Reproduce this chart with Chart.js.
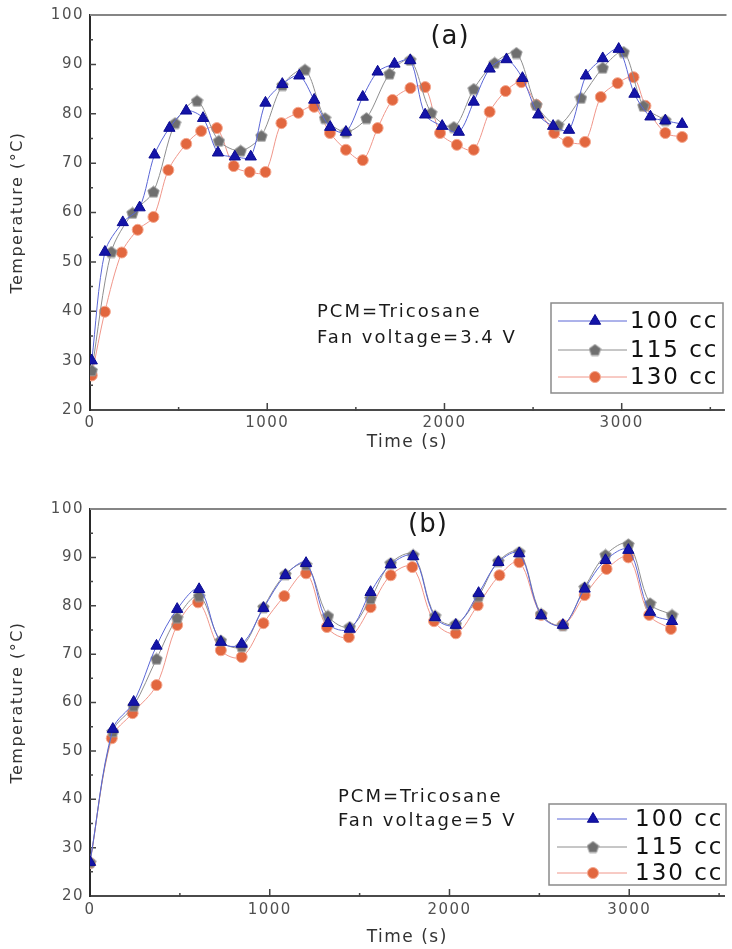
<!DOCTYPE html>
<html>
<head>
<meta charset="utf-8">
<script src="https://cdn.jsdelivr.net/npm/chart.js@4.4.0/dist/chart.umd.min.js"></script>
<style>
body { margin: 0; background: #fff; width: 732px; height: 949px; overflow: hidden; }
.box { position: absolute; left: 0; width: 732px; }
</style>
</head>
<body>
<div class="box" style="top:0;height:470px"><canvas id="ChartA"></canvas></div>
<div class="box" style="top:470px;height:479px"><canvas id="ChartB"></canvas></div>
<script>
// (a) fan voltage 3.4 V
var timeA100 = [10, 84, 185, 280, 364, 448, 543, 638, 722, 817, 907, 990, 1085, 1181, 1265, 1355, 1444, 1539, 1623, 1718, 1807, 1891, 1987, 2081, 2165, 2255, 2350, 2440, 2529, 2613, 2703, 2798, 2893, 2983, 3072, 3162, 3246, 3341];
var tempA100 = [30, 52, 58, 61, 71.7, 77.1, 80.6, 79.1, 72.1, 71.3, 71.3, 82.2, 86, 87.7, 82.8, 77.3, 76.3, 83.4, 88.5, 90.1, 90.8, 79.8, 77.5, 76.3, 82.4, 89.1, 91.0, 87.2, 79.8, 77.5, 76.7, 87.7, 91.2, 93.1, 84.0, 79.4, 78.6, 77.9];
var timeA115 = [10, 120, 240, 358, 480, 604, 727, 850, 967, 1086, 1213, 1326, 1444, 1560, 1690, 1807, 1925, 2053, 2165, 2283, 2406, 2518, 2641, 2770, 2893, 3011, 3122, 3246];
var tempA115 = [28, 52, 59.9, 64.2, 78.1, 82.6, 74.5, 72.5, 75.5, 85.8, 88.9, 79.1, 76.3, 79.1, 88.1, 90.9, 80.2, 77.3, 85.0, 90.3, 92.3, 81.8, 77.7, 83.2, 89.3, 92.5, 81.6, 78.7];
var timeA130 = [10, 84, 179, 269, 358, 442, 543, 627, 716, 811, 901, 990, 1080, 1175, 1265, 1354, 1444, 1539, 1623, 1707, 1808, 1891, 1975, 2070, 2165, 2255, 2345, 2434, 2518, 2619, 2697, 2793, 2882, 2977, 3067, 3134, 3246, 3341];
var tempA130 = [27, 39.9, 51.9, 56.5, 59.1, 68.6, 73.9, 76.5, 77.1, 69.4, 68.2, 68.2, 78.1, 80.2, 81.4, 76.1, 72.7, 70.6, 77.1, 82.8, 85.2, 85.4, 76.1, 73.7, 72.7, 80.4, 84.6, 86.4, 81.8, 76.1, 74.3, 74.3, 83.4, 86.2, 87.4, 81.6, 76.1, 75.3];

// (b) fan voltage 5 V
var timeB100 = [0, 127, 243, 370, 485, 607, 728, 844, 965, 1087, 1202, 1324, 1445, 1561, 1673, 1798, 1920, 2035, 2162, 2272, 2388, 2510, 2631, 2752, 2868, 2995, 3116, 3238];
var tempB100 = [27, 54.5, 60.1, 71.7, 79.3, 83.4, 72.5, 72.1, 79.5, 86.3, 88.8, 76.4, 75.2, 82.8, 88.5, 90.2, 77.6, 76.0, 82.6, 89.0, 90.8, 78.0, 76.0, 83.5, 89.4, 91.5, 78.7, 76.8];
var timeB115 = [0, 127, 243, 370, 485, 607, 728, 844, 965, 1087, 1202, 1324, 1445, 1561, 1673, 1798, 1920, 2035, 2162, 2272, 2388, 2510, 2631, 2752, 2868, 2995, 3116, 3238];
var tempB115 = [27, 54.0, 59.3, 69, 77.5, 82, 72.8, 71.6, 79.7, 86.5, 88.5, 77.9, 75.6, 81.5, 88.8, 90.5, 77.9, 76.2, 82, 89.2, 91.1, 78.3, 76.0, 83.8, 90.5, 92.7, 80.5, 78.1];
var timeB130 = [0, 121, 237, 370, 485, 601, 728, 844, 965, 1081, 1202, 1318, 1440, 1561, 1673, 1793, 1914, 2035, 2157, 2278, 2388, 2510, 2631, 2752, 2874, 2995, 3111, 3232];
var tempB130 = [26.8, 52.6, 57.8, 63.6, 76.0, 80.7, 70.8, 69.4, 76.4, 82.0, 86.7, 75.6, 73.5, 79.7, 86.3, 88.0, 76.8, 74.3, 80.1, 86.3, 89.0, 78.1, 76.0, 82.2, 87.6, 90.0, 78.1, 75.2];

var seriesLabels = ['100 cc', '115 cc', '130 cc'];
var xTickLabels = [0, 1000, 2000, 3000];
var yTickLabels = [20, 30, 40, 50, 60, 70, 80, 90, 100];

var FONT = "'DejaVu Sans', sans-serif";

function pts(t, v) {
    return t.map(function (x, i) { return {x: x, y: v[i]}; });
}

// grey pentagon marker
function pentagon() {
    var c = document.createElement('canvas');
    c.width = 13; c.height = 13;
    var g = c.getContext('2d');
    g.beginPath();
    for (var i = 0; i < 5; i++) {
        var a = -Math.PI / 2 + i * 2 * Math.PI / 5;
        var px = 6.5 + 6 * Math.cos(a), py = 7 + 6 * Math.sin(a);
        if (i) g.lineTo(px, py); else g.moveTo(px, py);
    }
    g.closePath();
    g.fillStyle = '#6f6f6f';
    g.fill();
    g.strokeStyle = '#9a9a9a';
    g.stroke();
    return c;
}
var greyMark = pentagon();

function makeData(t1, v1, t2, v2, t3, v3, tension) {
    return {
        datasets: [
            {
                label: seriesLabels[0],
                data: pts(t1, v1),
                borderColor: '#5a66d6', borderWidth: 1, tension: tension,
                pointStyle: 'triangle', pointRadius: 6.5,
                pointBackgroundColor: '#1414a8', pointBorderColor: '#0a0a90', pointBorderWidth: 1
            },
            {
                label: seriesLabels[1],
                data: pts(t2, v2),
                borderColor: '#8e8e8e', borderWidth: 1, tension: tension,
                pointStyle: greyMark, pointRadius: 6,
                pointBackgroundColor: '#6f6f6f', pointBorderColor: '#9a9a9a', pointBorderWidth: 1
            },
            {
                label: seriesLabels[2],
                data: pts(t3, v3),
                borderColor: '#f0968a', borderWidth: 1, tension: tension,
                pointStyle: 'circle', pointRadius: 5.5,
                pointBackgroundColor: '#e2673f', pointBorderColor: '#f4a890', pointBorderWidth: 1
            }
        ]
    };
}

// wider glyph spacing for the axis texts
var spacing = {
    id: 'spacing',
    beforeDraw: function (chart) { chart.ctx.letterSpacing = '1.5px'; },
    afterDraw: function (chart) { chart.ctx.letterSpacing = '0px'; }
};

// top frame line + inward ticks
var frame = {
    id: 'frame',
    beforeDatasetsDraw: function (chart) {
        var ctx = chart.ctx, a = chart.chartArea, x = chart.scales.x, y = chart.scales.y;
        ctx.save();
        ctx.strokeStyle = '#858585';
        ctx.lineWidth = 2;
        ctx.beginPath();
        ctx.moveTo(a.left, a.top);
        ctx.lineTo(a.right + 2, a.top);
        ctx.stroke();
        ctx.strokeStyle = '#444';
        ctx.lineWidth = 1.5;
        ctx.beginPath();
        for (var v = 25; v < 100; v += 5) {
            var py = y.getPixelForValue(v);
            ctx.moveTo(a.left, py);
            ctx.lineTo(a.left + (v % 10 === 0 ? 6 : 3), py);
        }
        for (var t = 500; t <= 3500; t += 500) {
            var px = x.getPixelForValue(t);
            ctx.moveTo(px, a.bottom + 1);
            ctx.lineTo(px, a.bottom - (t % 1000 === 0 ? 7 : 3));
        }
        ctx.stroke();
        ctx.restore();
    }
};

// panel label, notes and boxed legend
var notes = {
    id: 'notes',
    afterDatasetsDraw: function (chart, args, o) {
        var ctx = chart.ctx;
        ctx.save();
        ctx.fillStyle = '#1a1a1a';
        ctx.textBaseline = 'middle';
        ctx.font = '26px ' + FONT;
        ctx.letterSpacing = '1px';
        ctx.textAlign = 'center';
        ctx.fillText(o.title, o.titleX, o.titleY);
        ctx.textAlign = 'left';
        ctx.font = '18px ' + FONT;
        ctx.letterSpacing = '2px';
        o.lines.forEach(function (s, i) {
            ctx.fillText(s, o.textX, o.textY[i]);
        });
        var b = o.box;
        ctx.fillStyle = '#fff';
        ctx.fillRect(b[0], b[1], b[2] - b[0], b[3] - b[1]);
        ctx.strokeStyle = '#8a8a8a';
        ctx.lineWidth = 1.5;
        ctx.strokeRect(b[0], b[1], b[2] - b[0], b[3] - b[1]);
        ctx.font = '23px ' + FONT;
        chart.data.datasets.forEach(function (ds, i) {
            var ry = o.rows[i];
            ctx.strokeStyle = ds.borderColor;
            ctx.lineWidth = 1;
            ctx.beginPath();
            ctx.moveTo(o.lineFrom, ry);
            ctx.lineTo(o.lineTo, ry);
            ctx.stroke();
            ctx.fillStyle = ds.pointBackgroundColor;
            ctx.strokeStyle = ds.pointBorderColor;
            Chart.helpers.drawPoint(ctx, {pointStyle: ds.pointStyle, radius: ds.pointRadius, borderWidth: 1, rotation: 0}, o.markX, ry);
            ctx.fillStyle = '#111';
            ctx.fillText(ds.label, o.labelX, ry + 1);
        });
        ctx.restore();
    }
};

function makeOptions(cfg) {
    return {
        responsive: true,
        maintainAspectRatio: false,
        animation: false,
        layout: {padding: {top: cfg.top, right: 2, left: 0, bottom: 0}},
        plugins: {
            legend: {display: false},
            tooltip: {enabled: false},
            notes: cfg.notes
        },
        scales: {
            x: {
                type: 'linear', min: 0, max: cfg.xMax,
                afterBuildTicks: function (s) {
                    s.ticks = xTickLabels.map(function (v) { return {value: v}; });
                },
                afterFit: function (s) { s.height = cfg.xHeight; },
                border: {color: '#4a4a4a', width: 2},
                grid: {drawOnChartArea: false, drawTicks: false},
                ticks: {
                    autoSkip: false, maxRotation: 0, padding: cfg.xPad,
                    color: '#505050', font: {family: FONT, size: 15},
                    callback: function (v) { return String(v); }
                },
                title: {
                    display: true, text: 'Time (s)', color: '#333',
                    font: {family: FONT, size: 17}, padding: {top: 0, bottom: cfg.xTitlePad}
                }
            },
            y: {
                min: 20, max: 100,
                afterBuildTicks: function (s) {
                    s.ticks = yTickLabels.map(function (v) { return {value: v}; });
                },
                afterFit: function (s) { s.width = 90; },
                border: {color: '#2a2a2a', width: 2},
                grid: {drawOnChartArea: false, drawTicks: false},
                ticks: {
                    padding: 6,
                    color: '#505050', font: {family: FONT, size: 15},
                    callback: function (v) { return String(v); }
                },
                title: {
                    display: true, text: 'Temperature (\u00B0C)', color: '#333',
                    font: {family: FONT, size: 16}, padding: {top: 8, bottom: 0}
                }
            }
        }
    };
}

var chartA = new Chart(document.getElementById('ChartA'), {
    type: 'line',
    data: makeData(timeA100, tempA100, timeA115, tempA115, timeA130, tempA130, 0.3),
    options: makeOptions({
        top: 15, xMax: 3580, xHeight: 60, xPad: 4, xTitlePad: 17,
        notes: {
            title: '(a)', titleX: 450, titleY: 37,
            lines: ['PCM=Tricosane', 'Fan voltage=3.4 V'], textX: 317, textY: [312, 338],
            box: [551, 303, 723, 393], rows: [321, 350, 377],
            lineFrom: 558, lineTo: 627, markX: 595, labelX: 630
        }
    }),
    plugins: [spacing, frame, notes]
});

var chartB = new Chart(document.getElementById('ChartB'), {
    type: 'line',
    data: makeData(timeB100, tempB100, timeB115, tempB115, timeB130, tempB130, 0.35),
    options: makeOptions({
        top: 39, xMax: 3530, xHeight: 53, xPad: 5, xTitlePad: 1,
        notes: {
            title: '(b)', titleX: 428, titleY: 55,
            lines: ['PCM=Tricosane', 'Fan voltage=5 V'], textX: 338, textY: [327, 351],
            box: [549, 334, 726, 415], rows: [349, 377, 403],
            lineFrom: 557, lineTo: 627, markX: 593, labelX: 635
        }
    }),
    plugins: [spacing, frame, notes]
});
</script>
</body>
</html>
